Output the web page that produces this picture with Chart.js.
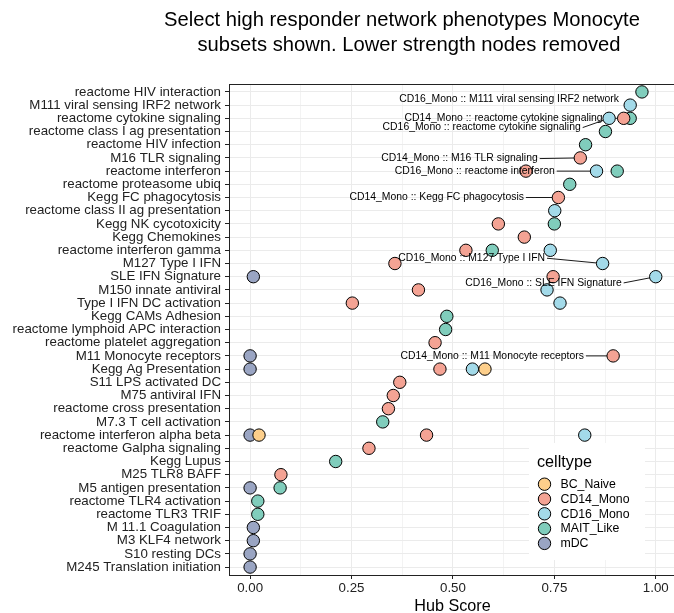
<!DOCTYPE html>
<html>
<head>
<meta charset="utf-8">
<script src="https://cdn.jsdelivr.net/npm/chart.js@4/dist/chart.umd.min.js"></script>
<style>
  html, body { margin: 0; padding: 0; background: #fff; overflow: hidden; }
  canvas { display: block; }
</style>
</head>
<body>
<canvas id="hubChart" width="674" height="613" style="width:674px;height:613px"></canvas>
<script>
// pathway modules, top to bottom
const categories = [
  'reactome HIV interaction', 'M111 viral sensing IRF2 network', 'reactome cytokine signaling',
  'reactome class I ag presentation', 'reactome HIV infection', 'M16 TLR signaling',
  'reactome interferon', 'reactome proteasome ubiq', 'Kegg FC phagocytosis',
  'reactome class II ag presentation', 'Kegg NK cycotoxicity', 'Kegg Chemokines',
  'reactome interferon gamma', 'M127 Type I IFN', 'SLE IFN Signature', 'M150 innate antiviral',
  'Type I IFN DC activation', 'Kegg CAMs Adhesion', 'reactome lymphoid APC interaction',
  'reactome platelet aggregation', 'M11 Monocyte receptors', 'Kegg Ag Presentation',
  'S11 LPS activated DC', 'M75 antiviral IFN', 'reactome cross presentation',
  'M7.3 T cell activation', 'reactome interferon alpha beta', 'reactome Galpha signaling',
  'Kegg Lupus', 'M25 TLR8 BAFF', 'M5 antigen presentation', 'reactome TLR4 activation',
  'reactome TLR3 TRIF', 'M 11.1 Coagulation', 'M3 KLF4 network', 'S10 resting DCs',
  'M245 Translation initiation'
];

// hub score per celltype, aligned with categories (null = not shown)
const _ = null;
const bcNaive = [_,_,_,_,_,_,_,_,_,_,_,_,_,_,_,_,_,_,_,_,_,0.579,_,_,_,_,0.022,_,_,_,_,_,_,_,_,_,_];
const cd14Mono = [_,_,0.921,_,_,0.814,0.680,_,0.760,_,0.612,0.676,0.532,0.357,0.747,0.415,0.252,_,_,0.456,
  0.895,0.468,0.369,0.353,0.341,_,0.435,0.293,_,0.076,_,_,_,_,_,_,_];
const cd16Mono = [_,0.937,0.885,_,_,_,0.854,_,_,0.751,_,_,0.740,0.869,1.000,0.732,0.764,_,_,_,
  _,0.548,_,_,_,_,0.825,_,_,_,_,_,_,_,_,_,_];
const maitLike = [0.966,_,0.937,0.876,0.827,_,0.905,0.788,_,_,0.750,_,0.597,_,_,_,_,0.485,0.482,_,
  _,_,_,_,_,0.327,_,_,0.211,_,0.074,0.019,0.019,_,_,_,_];
const mDC = [_,_,_,_,_,_,_,_,_,_,_,_,_,_,0.008,_,_,_,_,_,0.000,0.000,_,_,_,_,0.000,_,_,_,0.000,_,_,
  0.008,0.008,0.000,0.000];

const celltypes = ['BC_Naive', 'CD14_Mono', 'CD16_Mono', 'MAIT_Like', 'mDC'];
const seriesValues = [bcNaive, cd14Mono, cd16Mono, maitLike, mDC];
const fills = ['#fdcf8b', '#f4a394', '#a3dae9', '#80cdbc', '#9aa5c3'];

const xTicks = [0, 0.125, 0.25, 0.375, 0.5, 0.625, 0.75, 0.875, 1];

// repelled labels: celltype, row, right end of text (data x), vertical nudge (rows)
const callouts = [
  { type: 'CD16_Mono', row: 1,  textX: 0.909, dy: -0.45 },
  { type: 'CD14_Mono', row: 2,  textX: 0.869, dy: 0 },
  { type: 'CD16_Mono', row: 2,  textX: 0.815, dy: 0.7 },
  { type: 'CD14_Mono', row: 5,  textX: 0.709, dy: 0.05 },
  { type: 'CD16_Mono', row: 6,  textX: 0.751, dy: 0 },
  { type: 'CD14_Mono', row: 8,  textX: 0.675, dy: 0 },
  { type: 'CD16_Mono', row: 13, textX: 0.727, dy: -0.4 },
  { type: 'CD16_Mono', row: 14, textX: 0.916, dy: 0.47 },
  { type: 'CD14_Mono', row: 20, textX: 0.823, dy: 0 }
];

const FONT = '"Liberation Sans", Arial, Helvetica, sans-serif';

const datasets = celltypes.map((name, k) => ({
  label: name,
  data: seriesValues[k].map((v, i) => v === null ? null : { x: v, y: i }).filter(p => p),
  backgroundColor: fills[k],
  borderColor: '#000',
  borderWidth: 1,
  pointRadius: 6.2,
  pointHoverRadius: 6.2
}));

const decor = {
  id: 'decor',
  beforeDatasetsDraw(chart) {
    const { ctx, scales: { x, y } } = chart;
    ctx.save();
    ctx.strokeStyle = '#000';
    ctx.lineWidth = 0.9;
    callouts.forEach(c => {
      const k = celltypes.indexOf(c.type);
      const px = x.getPixelForValue(seriesValues[k][c.row]);
      const py = y.getPixelForValue(c.row);
      const sx = x.getPixelForValue(c.textX) + 2;
      const sy = y.getPixelForValue(c.row + c.dy);
      if (Math.hypot(px - sx, py - sy) < 14) return;
      ctx.beginPath();
      ctx.moveTo(sx, sy);
      ctx.lineTo(px, py);
      ctx.stroke();
    });
    ctx.restore();
  },
  afterDatasetsDraw(chart) {
    const { ctx, chartArea: a, scales: { x, y } } = chart;
    ctx.save();
    // panel border
    ctx.strokeStyle = '#222';
    ctx.lineWidth = 1;
    ctx.strokeRect(a.left + 0.5, a.top + 0.5, a.right - a.left + 5, a.bottom - a.top);
    // callout text
    ctx.fillStyle = '#000';
    ctx.font = '10.4px ' + FONT;
    ctx.textAlign = 'right';
    ctx.textBaseline = 'middle';
    callouts.forEach(c => {
      ctx.fillText(c.type + ' :: ' + categories[c.row],
        x.getPixelForValue(c.textX), y.getPixelForValue(c.row + c.dy));
    });
    ctx.restore();
  },
  afterDraw(chart) {
    const { ctx } = chart;
    ctx.save();
    ctx.fillStyle = '#000';
    ctx.textAlign = 'center';
    ctx.textBaseline = 'alphabetic';
    ctx.font = '20.2px ' + FONT;
    ctx.fillText('Select high responder network phenotypes Monocyte', 402, 25.7);
    ctx.fillText('subsets shown. Lower strength nodes removed', 409, 50.7);
    ctx.font = '16.2px ' + FONT;
    ctx.fillText('Hub Score', 452.5, 611);

    // legend
    ctx.fillStyle = '#fff';
    ctx.fillRect(529, 443, 116, 117);
    ctx.fillStyle = '#000';
    ctx.textAlign = 'left';
    ctx.font = '16.2px ' + FONT;
    ctx.fillText('celltype', 537, 466.5);
    ctx.font = '12.3px ' + FONT;
    ctx.textBaseline = 'middle';
    celltypes.forEach((name, k) => {
      const cy = 484.2 + k * 14.8;
      ctx.beginPath();
      ctx.arc(544.5, cy, 6.2, 0, Math.PI * 2);
      ctx.fillStyle = fills[k];
      ctx.fill();
      ctx.strokeStyle = '#000';
      ctx.lineWidth = 1;
      ctx.stroke();
      ctx.fillStyle = '#000';
      ctx.fillText(name, 560.5, cy + 0.5);
    });
    ctx.restore();
  }
};

new Chart(document.getElementById('hubChart'), {
  type: 'scatter',
  data: { datasets },
  options: {
    responsive: false,
    animation: false,
    events: [],
    layout: { autoPadding: false, padding: { top: 84, left: 0, right: 0, bottom: 0 } },
    plugins: { legend: { display: false }, tooltip: { enabled: false } },
    scales: {
      x: {
        type: 'linear',
        min: -0.052,
        max: 1.045,
        afterBuildTicks: s => { s.ticks = xTicks.map(v => ({ value: v })); },
        afterFit: s => { s.height = 38; s.paddingLeft = 0; s.paddingRight = 0; },
        ticks: {
          autoSkip: false,
          maxRotation: 0,
          padding: 1,
          color: '#222',
          font: { family: FONT, size: 13.3 },
          callback: (v, i) => i % 2 === 0 ? v.toFixed(2) : ''
        },
        grid: {
          color: c => c.index % 2 === 0 ? '#ebebeb' : '#f3f3f3',
          lineWidth: 1,
          tickLength: 4,
          tickColor: c => c.index % 2 === 0 ? '#222' : 'rgba(0,0,0,0)'
        },
        border: { display: true, color: '#222', width: 1 }
      },
      y: {
        type: 'linear',
        reverse: true,
        min: -0.6,
        max: 36.6,
        afterBuildTicks: s => { s.ticks = categories.map((c, i) => ({ value: i })); },
        afterFit: s => { s.width = 229; s.paddingTop = 0; s.paddingBottom = 0; },
        ticks: {
          autoSkip: false,
          padding: 4,
          color: '#222',
          font: { family: FONT, size: 13.3 },
          callback: v => categories[v]
        },
        grid: {
          color: '#ebebeb',
          lineWidth: 1,
          tickLength: 4,
          tickColor: '#222'
        },
        border: { display: true, color: '#222', width: 1 }
      }
    }
  },
  plugins: [decor]
});
</script>
</body>
</html>
